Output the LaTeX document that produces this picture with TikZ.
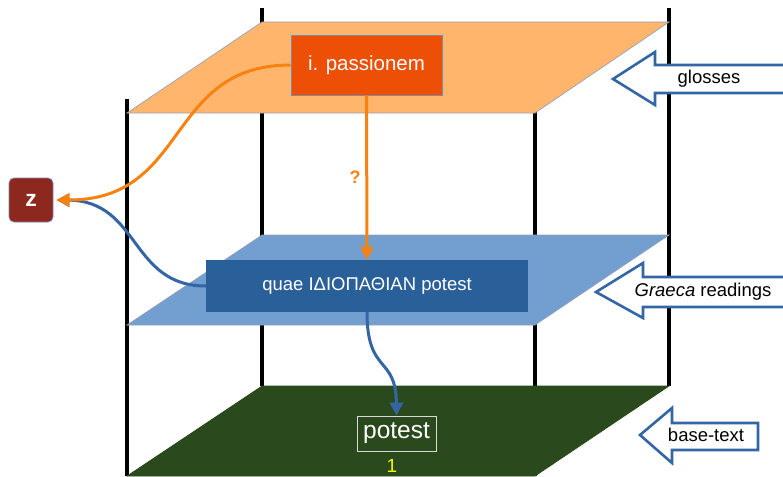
\documentclass[tikz,border=0pt]{standalone}
\usepackage{fontspec}
\setmainfont{Liberation Sans}
\usetikzlibrary{arrows.meta}
\definecolor{planeor}{HTML}{FFB66C}
\definecolor{planebl}{HTML}{729FCF}
\definecolor{planegr}{HTML}{2A4A1E}
\definecolor{nodeor}{HTML}{EE4F06}
\definecolor{nodebl}{HTML}{2A6099}
\definecolor{nodez}{HTML}{8D281E}
\definecolor{arror}{HTML}{F7820F}
\definecolor{arrbl}{HTML}{3465A4}
\definecolor{edgegray}{HTML}{7A8BAA}
\begin{document}
\begin{tikzpicture}[x=1pt,y=-1pt,
  post/.style={line width=3.2pt,black},
  plane/.style={draw=edgegray!80,line width=0.7pt},
  labelarrow/.style={draw=arrbl,fill=white,line width=2.6pt,line join=miter},
  conn/.style={line width=3pt,-{Triangle[length=13pt,width=13pt]}},
  lbl/.style={text=black,font=\fontsize{18.5}{22}\selectfont,inner sep=0pt}
]
\useasboundingbox (0,0) rectangle (783,476);
% posts
\draw[post] (127,99) -- (127,476);
\draw[post] (262,8) -- (262,386);
\draw[post] (535,99) -- (535,476);
\draw[post] (669,8) -- (669,386);
% planes
\filldraw[plane,fill=planeor] (127,113) -- (262,22) -- (669,22) -- (535,113) -- cycle;
\filldraw[plane,fill=planebl] (127,325) -- (262,235) -- (669,235) -- (535,325) -- cycle;
\filldraw[plane,draw=planegr,fill=planegr] (127,476) -- (262,386) -- (669,386) -- (535,476) -- cycle;
% label arrows
\draw[labelarrow] (790,65) -- (655,65) -- (655,52) -- (613,79) -- (655,105) -- (655,93) -- (790,93);
\node[lbl] (glosses) at (709,79) {glosses};
\draw[labelarrow] (790,277) -- (643,277) -- (643,263) -- (596,292) -- (643,318) -- (643,307) -- (790,307);
\node[lbl] (graeca) at (703,292) {\textit{Graeca} readings};
\draw[labelarrow] (758,423) -- (672,423) -- (672,408) -- (640,435) -- (672,463) -- (672,450) -- (758,450) -- cycle;
\node[lbl] (base) at (706,435) {base-text};
% nodes
\node[draw=edgegray,line width=0.7pt,fill=nodeor,minimum width=151pt,minimum height=60pt,inner sep=0pt,
  text=white,font=\fontsize{20.5}{24}\selectfont] (pass) at (366.5,65) {i. passionem};
\node[fill=nodebl,minimum width=322pt,minimum height=52pt,inner sep=0pt,
  text=white,font=\fontsize{18.5}{22}\selectfont] (quae) at (367,286) {quae ΙΔΙΟΠΑΘΙΑΝ potest};
\node[draw=white!85!black,line width=0.9pt,minimum width=79pt,minimum height=35pt,inner sep=0pt,
  text=white,font=\fontsize{24.5}{28}\selectfont] (pot) at (396.5,433.5) {potest};
\node[text=yellow,inner sep=0pt,font=\fontsize{19}{20}\selectfont] (one) at (392,466) {1};
\node[rounded corners=5pt,fill=nodez,draw=edgegray,line width=0.7pt,minimum width=44pt,minimum height=44pt,
  inner sep=0pt,text=white,font=\bfseries\fontsize{23}{24}\selectfont] (z) at (31,200) {z};
\node[text=arror,inner sep=0pt,font=\bfseries\fontsize{18}{20}\selectfont] (q) at (355,177) {?};
% connectors
\draw[conn,arrbl] (quae.west) .. controls (130,286) and (140,201) .. ([xshift=3pt]z.east);
\draw[conn,arror] (pass.west) .. controls (165,65) and (190,200) .. ([xshift=3pt]z.east);
\draw[conn,arror] (pass.south) -- (quae.north);
\draw[conn,arrbl] (quae.south) .. controls (367,375) and (396,355) .. (pot.north);
\end{tikzpicture}
\end{document}
